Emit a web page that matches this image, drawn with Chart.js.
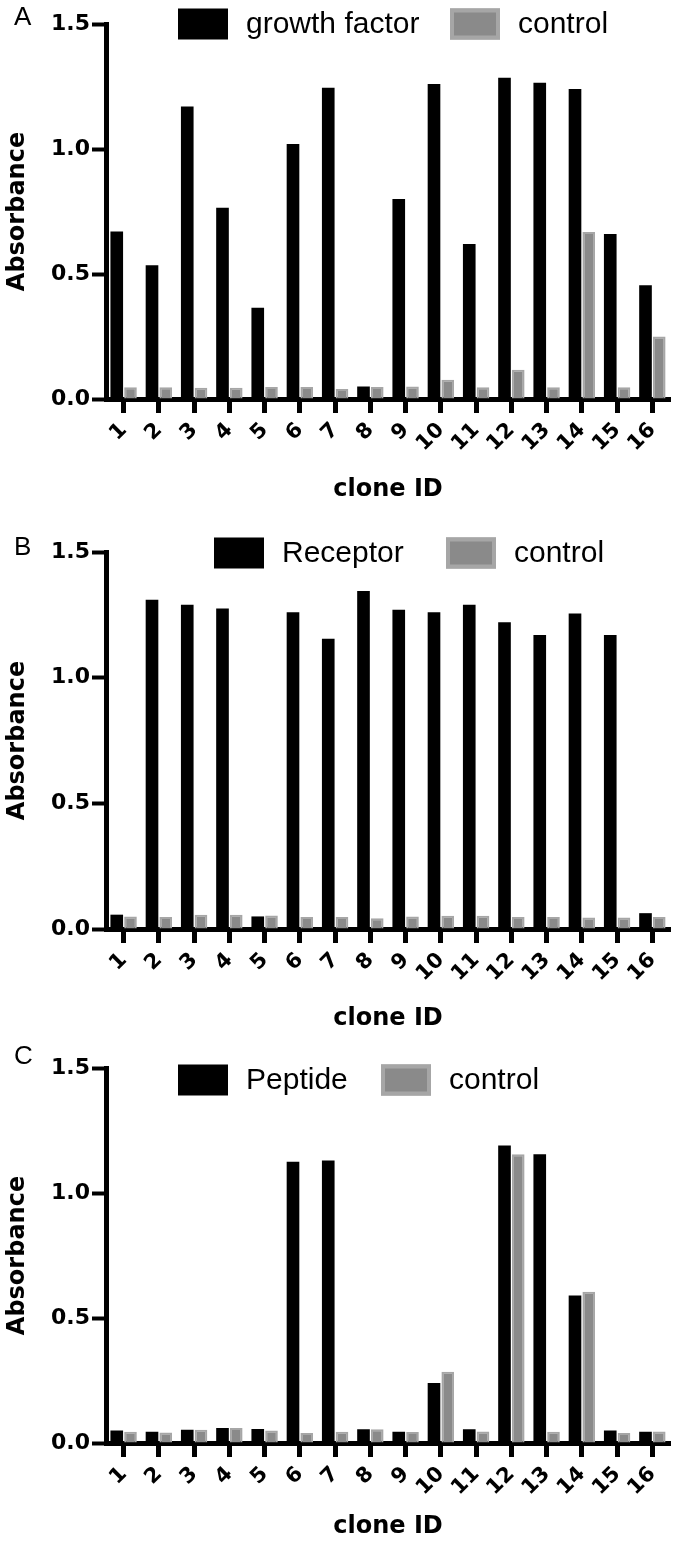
<!DOCTYPE html>
<html>
<head>
<meta charset="utf-8">
<script src="https://cdn.jsdelivr.net/npm/chart.js@4.4.1/dist/chart.umd.min.js"></script>
<style>
  body { margin: 0; background: #fff; }
  canvas { position: absolute; left: 0; }
</style>
</head>
<body>
<canvas id="chartA" width="680" height="515" style="top:0"></canvas>
<canvas id="chartB" width="680" height="525" style="top:515px"></canvas>
<canvas id="chartC" width="680" height="505" style="top:1040px"></canvas>
<script>
const clones = ['1', '2', '3', '4', '5', '6', '7', '8', '9', '10', '11', '12', '13', '14', '15', '16']

const growthFactor = [0.67, 0.535, 1.17, 0.765, 0.365, 1.02, 1.245, 0.05, 0.80, 1.26, 0.62, 1.285, 1.265, 1.24, 0.66, 0.455]
const growthControl = [0.047, 0.047, 0.045, 0.045, 0.048, 0.048, 0.04, 0.048, 0.05, 0.077, 0.047, 0.117, 0.047, 0.668, 0.047, 0.25]

const receptor = [0.057, 1.31, 1.29, 1.275, 0.05, 1.26, 1.155, 1.345, 1.27, 1.26, 1.29, 1.22, 1.17, 1.255, 1.17, 0.063]
const receptorControl = [0.05, 0.048, 0.057, 0.057, 0.054, 0.048, 0.048, 0.043, 0.05, 0.053, 0.053, 0.048, 0.048, 0.046, 0.046, 0.048]

const peptide = [0.05, 0.045, 0.053, 0.06, 0.056, 1.125, 1.13, 0.055, 0.045, 0.24, 0.055, 1.19, 1.155, 0.59, 0.05, 0.045]
const peptideControl = [0.045, 0.042, 0.053, 0.06, 0.05, 0.04, 0.045, 0.055, 0.044, 0.285, 0.046, 1.155, 0.045, 0.605, 0.04, 0.046]

const yMax = 1.5
const yStep = 0.5

const boldFont = 'DejaVu Sans'

// panel letter + legend drawn on top
const panelDecor = {
  id: 'panelDecor',
  afterDraw(chart, args, opts) {
    const ctx = chart.ctx
    ctx.save()
    ctx.textBaseline = 'middle'
    ctx.fillStyle = '#000'
    ctx.font = '26px "Liberation Sans", Arial, sans-serif'
    ctx.fillText(opts.letter, 14, opts.letterY)

    ctx.font = '30px "Liberation Sans", Arial, sans-serif'
    chart.data.datasets.forEach((ds, i) => {
      const x = opts.legendX[i]
      const y = opts.legendY
      ctx.fillStyle = ds.backgroundColor
      ctx.fillRect(x, y - 15.5, 50, 31)
      if (ds.borderWidth) {
        ctx.strokeStyle = ds.borderColor
        ctx.lineWidth = 4
        ctx.strokeRect(x + 2, y - 13.5, 46, 27)
      }
      ctx.fillStyle = '#000'
      ctx.fillText(ds.label, x + 68, y + 1)
    })
    ctx.restore()
  }
}

function makePanel(id, label, values, controls, lay) {
  return new Chart(document.getElementById(id), {
    type: 'bar',
    data: {
      labels: clones,
      datasets: [
        { label: label, data: values, backgroundColor: '#000', borderWidth: 0 },
        { label: 'control', data: controls, backgroundColor: '#8a8a8a', borderColor: '#a6a6a6', borderWidth: 2 }
      ]
    },
    options: {
      responsive: false,
      devicePixelRatio: 1,
      animation: false,
      layout: { padding: { top: lay.top, right: 10, bottom: 0, left: 0 } },
      datasets: { bar: { categoryPercentage: 0.78, barPercentage: 0.92 } },
      plugins: {
        legend: { display: false },
        tooltip: { enabled: false },
        panelDecor: { letter: lay.letter, letterY: lay.letterY, legendX: lay.legendX, legendY: lay.legendY }
      },
      scales: {
        x: {
          grid: { drawOnChartArea: false, offset: false, tickLength: 14, tickWidth: 5, tickColor: '#000' },
          border: { display: true, width: 5, color: '#000' },
          ticks: {
            color: '#000',
            font: { family: boldFont, weight: 'bold', size: 21 },
            minRotation: 45,
            maxRotation: 45,
            autoSkip: false,
            padding: 5
          },
          title: {
            display: true,
            text: 'clone ID',
            color: '#000',
            font: { family: boldFont, weight: 'bold', size: 24 },
            padding: { top: 0, bottom: lay.titlePad }
          },
          afterFit: s => { s.height = lay.xHeight }
        },
        y: {
          min: 0,
          max: yMax,
          grid: { drawOnChartArea: false, tickLength: 14, tickWidth: 4, tickColor: '#000' },
          border: { display: true, width: 5, color: '#000' },
          ticks: {
            stepSize: yStep,
            color: '#000',
            font: { family: boldFont, weight: 'bold', size: 22 },
            padding: 2,
            callback: v => v.toFixed(1)
          },
          title: {
            display: true,
            text: 'Absorbance',
            color: '#000',
            font: { family: boldFont, weight: 'bold', size: 24 },
            padding: { top: 3, bottom: 0 }
          },
          afterFit: s => { s.width = 106 }
        }
      }
    },
    plugins: [panelDecor]
  })
}

makePanel('chartA', 'growth factor', growthFactor, growthControl,
  { top: 24, xHeight: 116, titlePad: 11, letter: 'A', letterY: 18, legendX: [178, 450], legendY: 24 })
makePanel('chartB', 'Receptor', receptor, receptorControl,
  { top: 37, xHeight: 111, titlePad: 7, letter: 'B', letterY: 33, legendX: [214, 446], legendY: 38 })
makePanel('chartC', 'Peptide', peptide, peptideControl,
  { top: 28, xHeight: 102, titlePad: 4, letter: 'C', letterY: 17, legendX: [178, 381], legendY: 40 })
</script>
</body>
</html>
